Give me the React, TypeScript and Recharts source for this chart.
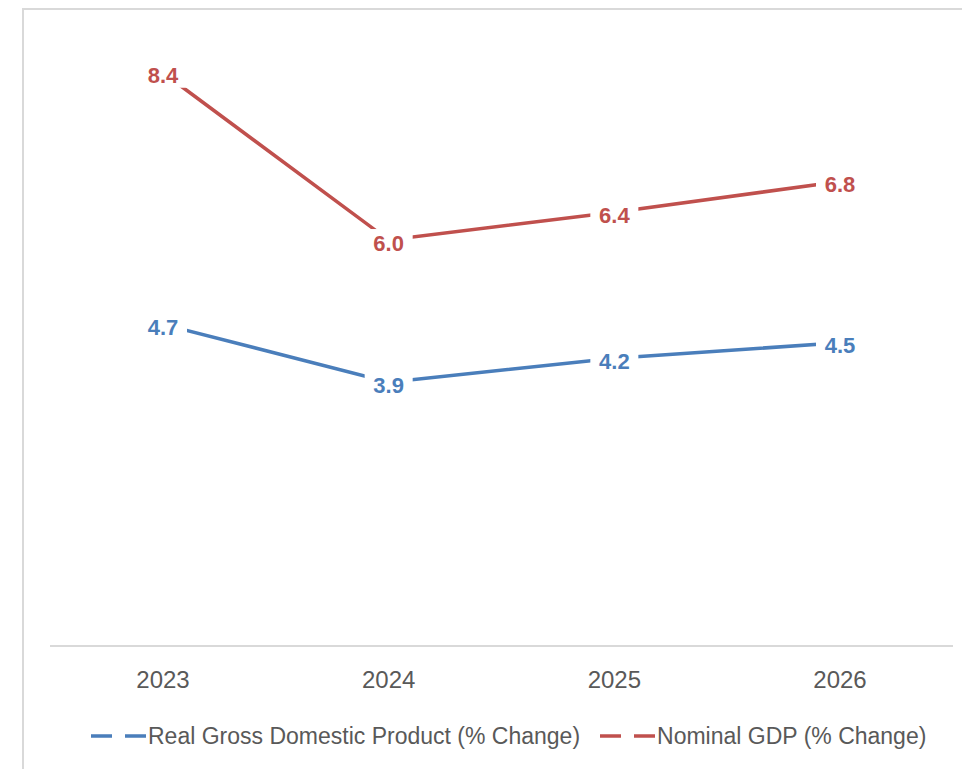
import { LineChart, Line, XAxis, YAxis, Legend, LabelList } from "recharts";

const years = ["2023", "2024", "2025", "2026"];
const realGdp = [4.73, 3.88, 4.23, 4.46];
const nominalGdp = [8.43, 5.97, 6.38, 6.83];

const RED = "#C0504D";
const BLUE = "#4A7EBB";
const FONT = "'Liberation Sans', Arial, sans-serif";

const data = years.map((y, i) => ({ year: y, real: realGdp[i], nominal: nominalGdp[i] }));

const makeLabel = (color: string) => (props: any) => {
  const { x, y, value } = props;
  const txt = Number(value).toFixed(1);
  return (
    <g>
      <rect x={x - 24} y={y - 11} width={48} height={26} fill="#fff" />
      <text x={x} y={y + 10.5} textAnchor="middle" fill={color} fontSize={22} fontWeight={700} fontFamily={FONT}>
        {txt}
      </text>
    </g>
  );
};

const YearTick = (props: any) => {
  const { x, y, payload } = props;
  return (
    <text x={x} y={y + 42} textAnchor="middle" fill="#595959" fontSize={24} fontFamily={FONT}>
      {payload.value}
    </text>
  );
};

const legendItems = [
  { name: "Real Gross Domestic Product (% Change)", color: BLUE },
  { name: "Nominal GDP (% Change)", color: RED },
];

const LegendBox = () => (
  <div style={{ display: "flex", alignItems: "center", height: 50, paddingLeft: 83, gap: 20, fontFamily: FONT, fontSize: 23, color: "#595959" }}>
    {legendItems.map((it) => (
      <div key={it.name} style={{ display: "flex", alignItems: "center" }}>
        <svg width={57} height={8}>
          <line x1={0} y1={4} x2={55} y2={4} stroke={it.color} strokeWidth={3.5} strokeDasharray="21 13" />
        </svg>
        <span>{it.name}</span>
      </div>
    ))}
  </div>
);

export default function App() {
  return (
    <div style={{ position: "relative", width: 962, height: 761 }}>
      <div
        style={{
          position: "absolute",
          left: 14,
          top: 0,
          right: 0,
          bottom: 0,
          borderLeft: "2px solid #d9d9d9",
          borderTop: "2px solid #d9d9d9",
        }}
      />
      <div style={{ position: "absolute", left: 0, top: 0 }}>
        <LineChart width={962} height={761} data={data} margin={{ top: 26, right: 17, left: 42, bottom: 8 }}>
          <XAxis
            dataKey="year"
            axisLine={{ stroke: "#d9d9d9", strokeWidth: 2 }}
            tickLine={false}
            tickSize={0}
            tickMargin={0}
            height={65}
            padding={{ left: 113, right: 113 }}
            tick={<YearTick />}
          />
          <YAxis hide domain={[0, 9]} />
          <Legend verticalAlign="bottom" height={50} wrapperStyle={{ left: 0, width: 962 }} content={() => <LegendBox />} />
          <Line dataKey="real" name="Real Gross Domestic Product (% Change)" stroke={BLUE} strokeWidth={3.5} dot={false} isAnimationActive={false}>
            <LabelList dataKey="real" content={makeLabel(BLUE)} />
          </Line>
          <Line dataKey="nominal" name="Nominal GDP (% Change)" stroke={RED} strokeWidth={3.5} dot={false} isAnimationActive={false}>
            <LabelList dataKey="nominal" content={makeLabel(RED)} />
          </Line>
        </LineChart>
      </div>
    </div>
  );
}
